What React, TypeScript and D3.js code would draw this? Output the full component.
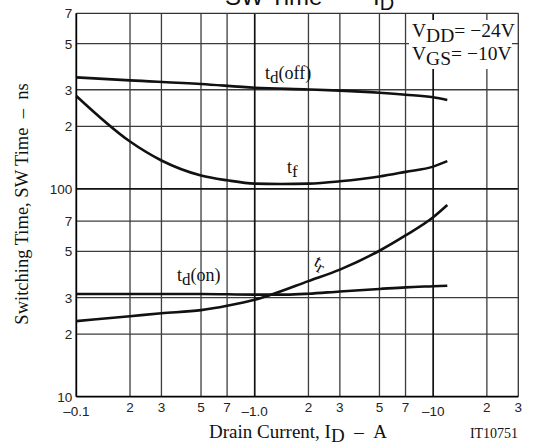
import React, { useEffect, useRef } from 'react';
import * as d3 from 'd3';

// |I_D| in A, times in ns
const tdOffI = [0.1, 0.2, 0.5, 1, 2, 3, 5, 7, 10, 12];
const tdOffT = [344, 333, 320, 307, 301, 297, 290, 284, 276, 268];

const tfI = [0.1, 0.2, 0.3, 0.5, 0.7, 1, 1.4, 2, 3, 5, 7, 10, 12];
const tfT = [280, 169, 137, 116, 110, 106, 105.5, 106, 108.8, 114.7, 120.8, 128, 136];

const tdOnI = [0.1, 0.5, 1, 1.5, 2, 3, 5, 7, 10, 12];
const tdOnT = [31.2, 31.2, 31, 31, 31.3, 32.1, 33, 33.6, 34, 34.2];

const trI = [0.1, 0.2, 0.3, 0.5, 0.7, 1, 1.2, 2, 3, 5, 7, 10, 12];
const trT = [23.1, 24.4, 25.2, 26.1, 27.4, 29.3, 30.7, 36, 40.9, 50.4, 59.7, 73, 83.6];

const xTicks = [0.1, 0.2, 0.3, 0.5, 0.7, 1, 2, 3, 5, 7, 10, 20, 30];
const xTickLabels = ['\u20130.1', '2', '3', '5', '7', '\u20131.0', '2', '3', '5', '7', '\u201310', '2', '3'];
const yTicks = [10, 20, 30, 50, 70, 100, 200, 300, 500, 700];
const yTickLabels = ['10', '2', '3', '5', '7', '100', '2', '3', '5', '7'];
const xMinor = [0.2, 0.3, 0.5, 0.7, 2, 3, 5, 7, 20];
const xMajor = [1, 10];
const yMinor = [20, 30, 50, 70, 200, 300, 500];
const yMajor = [100];

const W = 546;
const H = 447;
const margin = { top: 13.3, right: 27.7, bottom: 50.3, left: 76.3 };
const NB = '\u00a0';

const App = () => {
  const ref = useRef<SVGSVGElement>(null);

  useEffect(() => {
    const svg = d3.select(ref.current);
    svg.selectAll('*').remove();

    const x = d3.scaleLog().domain([0.1, 30]).range([margin.left, W - margin.right]);
    const y = d3.scaleLog().domain([10, 700]).range([H - margin.bottom, margin.top]);
    const x0 = margin.left, x1 = W - margin.right;
    const y0 = H - margin.bottom, y1 = margin.top;
    const sans = 'Liberation Sans, Arial, sans-serif';
    const serif = 'Liberation Serif, Times New Roman, serif';

    // grid lines
    const grid = svg.append('g');
    grid.selectAll('line.vmin').data(xMinor).join('line')
      .attr('class', 'vmin')
      .attr('x1', d => x(d)).attr('x2', d => x(d))
      .attr('y1', y1).attr('y2', y0)
      .style('stroke', '#3c3c3c').style('stroke-width', '1.3px');
    grid.selectAll('line.hmin').data(yMinor).join('line')
      .attr('class', 'hmin')
      .attr('x1', x0).attr('x2', x1)
      .attr('y1', d => y(d)).attr('y2', d => y(d))
      .style('stroke', '#3c3c3c').style('stroke-width', '1.3px');
    grid.selectAll('line.vmaj').data(xMajor).join('line')
      .attr('class', 'vmaj')
      .attr('x1', d => x(d)).attr('x2', d => x(d))
      .attr('y1', y1).attr('y2', y0)
      .style('stroke', '#111').style('stroke-width', '1.7px');
    grid.selectAll('line.hmaj').data(yMajor).join('line')
      .attr('class', 'hmaj')
      .attr('x1', x0).attr('x2', x1)
      .attr('y1', d => y(d)).attr('y2', d => y(d))
      .style('stroke', '#111').style('stroke-width', '1.7px');

    // frame
    svg.append('line').attr('x1', x1).attr('x2', x1).attr('y1', y1).attr('y2', y0)
      .attr('stroke', '#333').attr('stroke-width', 1.3);
    svg.append('line').attr('x1', x0).attr('x2', x1).attr('y1', y1).attr('y2', y1)
      .attr('stroke', '#333').attr('stroke-width', 1.3);
    svg.append('line').attr('x1', x0).attr('x2', x0).attr('y1', y1).attr('y2', y0)
      .attr('stroke', '#000').attr('stroke-width', 1.8);
    svg.append('line').attr('x1', x0).attr('x2', x1).attr('y1', y0).attr('y2', y0)
      .attr('stroke', '#000').attr('stroke-width', 1.8);

    // tick labels
    svg.append('g').selectAll('text').data(xTicks).join('text')
      .attr('x', d => x(d))
      .attr('y', (d, i) => (xTickLabels[i].startsWith('\u2013') ? y0 + 19.5 : y0 + 15.5))
      .attr('text-anchor', 'middle')
      .attr('font-family', sans).attr('font-size', 13.5).attr('fill', '#222')
      .text((d, i) => xTickLabels[i]);

    svg.append('g').selectAll('text').data(yTicks).join('text')
      .attr('x', x0 - 4)
      .attr('y', d => y(d) + 5)
      .attr('text-anchor', 'end')
      .attr('font-family', sans).attr('font-size', 13.5).attr('fill', '#222')
      .text((d, i) => yTickLabels[i]);

    // curves
    const line = d3.line<[number, number]>()
      .x(d => x(d[0])).y(d => y(d[1]))
      .curve(d3.curveMonotoneX);
    const series = [
      [tdOffI, tdOffT],
      [tfI, tfT],
      [tdOnI, tdOnT],
      [trI, trT],
    ];
    series.forEach(([xs, ts]) => {
      svg.append('path')
        .datum(xs.map((v, i) => [v, ts[i]] as [number, number]))
        .attr('d', line)
        .attr('fill', 'none').attr('stroke', '#111').attr('stroke-width', 2.6);
    });

    // curve labels
    const sub = (g: any, px: number, py: number, main: string, s: string, rest: string, size: number, rot = 0) => {
      const t = g.append('text')
        .attr('x', px).attr('y', py)
        .attr('font-family', serif).attr('font-size', size).attr('fill', '#111');
      if (rot) t.attr('transform', `rotate(${rot},${px},${py})`);
      t.append('tspan').text(main);
      t.append('tspan').attr('dy', 4).attr('font-size', size - 1).text(s);
      if (rest) t.append('tspan').attr('dy', -4).text(rest);
    };
    sub(svg, 265, 79, 't', 'd', '(off)', 18);
    sub(svg, 287, 173, 't', 'f', '', 18);
    sub(svg, 177, 281, 't', 'd', '(on)', 18);
    sub(svg, 313, 265, 't', 'r', '', 18, 28);

    // conditions box
    svg.append('rect').attr('x', 409).attr('y', 20).attr('width', 103).attr('height', 49).attr('fill', '#fff');
    const cond = (py: number, s: string, rest: string) => {
      const t = svg.append('text').attr('x', 412).attr('y', py)
        .attr('font-family', serif).attr('font-size', 19.5).attr('fill', '#111');
      t.append('tspan').text('V');
      t.append('tspan').attr('dy', 5).text(s);
      t.append('tspan').attr('dy', -5).text(rest);
    };
    cond(37, 'DD', `=${NB}\u221224V`);
    cond(60, 'GS', `=${NB}\u221210V`);

    // title (clipped at top, as in the source)
    const title = svg.append('text').attr('x', 225).attr('y', 5)
      .attr('font-family', sans).attr('font-size', 24).attr('fill', '#111');
    title.append('tspan').text(`SW Time${NB}${NB}\u2014${NB}${NB}I`);
    title.append('tspan').attr('dy', 5).attr('font-size', 20).text('D');

    // axis titles
    const xl = svg.append('text').attr('x', 298).attr('y', 438).attr('text-anchor', 'middle')
      .attr('font-family', serif).attr('font-size', 19).attr('fill', '#111');
    xl.append('tspan').text('Drain Current, I');
    xl.append('tspan').attr('dy', 4).text('D');
    xl.append('tspan').attr('dy', -4).text(`${NB}${NB}\u2013${NB}${NB}A`);
    svg.append('text').attr('x', 494).attr('y', 438).attr('text-anchor', 'middle')
      .attr('font-family', serif).attr('font-size', 14).attr('fill', '#111')
      .text('IT10751');

    svg.append('text')
      .attr('transform', `translate(28,${204}) rotate(-90)`)
      .attr('text-anchor', 'middle')
      .attr('font-family', serif).attr('font-size', 18.5).attr('fill', '#111')
      .text(`Switching Time, SW Time${NB}${NB}\u2013${NB}${NB}ns`);
  }, []);

  return (
    <svg ref={ref} width={W} height={H}
      style={{ position: 'absolute', left: 0, top: 0, background: '#fff' }} />
  );
};

export default App;
